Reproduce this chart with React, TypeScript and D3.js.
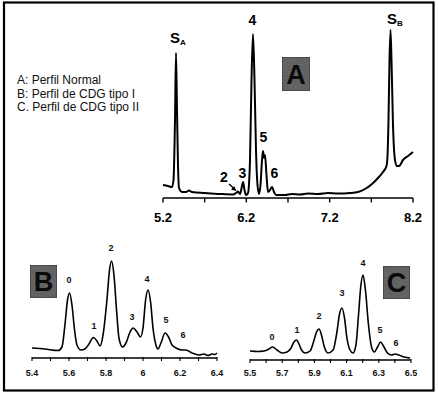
import React from "react";
import * as d3 from "d3";

// ---------- Data ----------
// Profile A (normal): retention (x) vs. relative intensity (y)
const profileAX = [5.2, 5.26, 5.308, 5.326, 5.344, 5.356, 5.368, 5.38, 5.392, 5.428, 5.476, 5.512, 5.548, 5.704, 5.884, 6.04, 6.076, 6.1, 6.124, 6.148, 6.16, 6.178, 6.196, 6.22, 6.244, 6.262, 6.28, 6.298, 6.316, 6.334, 6.352, 6.37, 6.388, 6.4, 6.412, 6.424, 6.442, 6.46, 6.484, 6.508, 6.532, 6.556, 6.664, 6.748, 6.844, 6.94, 7.06, 7.18, 7.3, 7.444, 7.54, 7.624, 7.708, 7.78, 7.84, 7.882, 7.894, 7.906, 7.918, 7.93, 7.942, 7.96, 7.984, 8.008, 8.032, 8.08, 8.14, 8.2];
const profileAY = [13, 12, 11, 18, 78, 145, 88, 33, 10, 6, 6, 7.5, 6, 5, 4, 3.5, 5, 6.5, 4, 12, 16, 8, 3, 5, 38, 118, 164, 118, 48, 13, 4, 13, 38, 47, 40, 43, 23, 6, 8, 11, 6, 3, 3, 4, 3.5, 4.5, 4, 5, 4.5, 5, 6, 9, 14, 20, 26, 32, 42, 78, 138, 168, 138, 73, 38, 32, 32, 38, 42, 46];

// Profile B (CDG type I)
const profileBX = [5.4, 5.47, 5.541, 5.562, 5.578, 5.592, 5.603, 5.616, 5.63, 5.643, 5.665, 5.686, 5.708, 5.732, 5.751, 5.768, 5.784, 5.805, 5.819, 5.83, 5.843, 5.857, 5.87, 5.889, 5.908, 5.93, 5.946, 5.968, 5.986, 6.0, 6.014, 6.027, 6.041, 6.054, 6.07, 6.081, 6.097, 6.119, 6.138, 6.157, 6.184, 6.211, 6.232, 6.265, 6.303, 6.33, 6.351, 6.373, 6.389, 6.4];
const profileBY = [10, 9, 7.5, 11, 33, 58, 65, 53, 28, 13, 8, 9, 14, 20.5, 17, 12, 23, 58, 88, 97, 83, 48, 20, 11, 15, 26, 30, 26, 21, 30, 58, 68, 56, 30, 13, 9, 15, 25, 21, 13, 9.5, 8, 8, 5, 3, 4, 2.5, 4, 3.5, 5];

// Profile C (CDG type II)
const profileCX = [5.5, 5.55, 5.587, 5.618, 5.64, 5.668, 5.699, 5.73, 5.755, 5.773, 5.789, 5.804, 5.82, 5.842, 5.873, 5.898, 5.913, 5.929, 5.944, 5.96, 5.984, 6.016, 6.04, 6.056, 6.071, 6.087, 6.102, 6.121, 6.14, 6.158, 6.174, 6.189, 6.202, 6.217, 6.236, 6.255, 6.273, 6.292, 6.311, 6.329, 6.354, 6.379, 6.401, 6.425, 6.457, 6.494];
const profileCY = [9, 8.5, 9, 11, 13, 10, 7, 8, 12, 18, 20, 16, 10, 7, 9, 20, 28, 31, 25, 14, 7, 10, 28, 46, 52, 42, 22, 10, 7, 15, 45, 75, 85, 70, 35, 13, 8, 13, 18, 14, 7, 5, 6, 5, 3, 2];

// Axis ticks
const ticksAMajor = [5.2, 6.2, 7.2, 8.2];
const ticksAAll = [5.2, 5.7, 6.2, 6.7, 7.2, 7.7, 8.2];
const ticksBLabels = [5.4, 5.6, 5.8, 6, 6.2, 6.4];
const ticksBAll = [5.4, 5.5, 5.6, 5.7, 5.8, 5.9, 6.0, 6.1, 6.2, 6.3, 6.4];
const ticksCLabels = [5.5, 5.7, 5.9, 6.1, 6.3, 6.5];
const ticksCAll = [5.5, 5.6, 5.7, 5.8, 5.9, 6.0, 6.1, 6.2, 6.3, 6.4, 6.5];

// Peak labels (anchor in data units)
const peakLabelsAText = ["4", "5", "6", "3", "2"];
const peakLabelsAX = [6.274, 6.406, 6.538, 6.154, 5.932];
const peakLabelsAY = [173, 56, 20, 20, 16];
const peakLabelsBText = ["0", "1", "2", "3", "4", "5", "6"];
const peakLabelsBX = [5.6, 5.735, 5.827, 5.941, 6.022, 6.124, 6.216];
const peakLabelsBY = [78, 32, 110, 41, 79, 38, 23];
const peakLabelsCText = ["0", "1", "2", "3", "4", "5", "6"];
const peakLabelsCX = [5.637, 5.792, 5.929, 6.071, 6.202, 6.307, 6.407];
const peakLabelsCY = [23, 30, 44, 67, 97, 30, 17];

const legendLines = ["A: Perfil Normal", "B: Perfil de CDG tipo I", "C. Perfil de CDG tipo II"];

const FONT = "'Liberation Sans', Arial, sans-serif";

const fmtB = (v: number) => (Math.abs(v - 6) < 1e-9 ? "6" : String(v));

function LetterBox({ x, y, w, h, letter }: { x: number; y: number; w: number; h: number; letter: string }) {
  return (
    <g>
      <rect x={x} y={y} width={w} height={h} fill="#727272" stroke="#3c3c3c" strokeWidth={1} filter="url(#speckle)" />
      <text x={x + w / 2} y={y + h / 2 + 9.5} textAnchor="middle" fontFamily={FONT} fontWeight="bold" fontSize={27} fill="#0a0a0a">
        {letter}
      </text>
    </g>
  );
}

export default function App() {
  // scales
  const xA = d3.scaleLinear().domain([5.2, 8.2]).range([163, 413]);
  const yA = d3.scaleLinear().domain([0, 170]).range([198, 28]);
  const xB = d3.scaleLinear().domain([5.4, 6.4]).range([32, 217]);
  const yB = d3.scaleLinear().domain([0, 100]).range([358, 258]);
  const xC = d3.scaleLinear().domain([5.5, 6.5]).range([250, 411]);
  const yC = d3.scaleLinear().domain([0, 100]).range([360, 260]);

  const mk = (xs: number[], ys: number[], sx: any, sy: any) =>
    d3
      .line<number>()
      .x((_, i) => sx(xs[i]))
      .y((d) => sy(d))
      .curve(d3.curveMonotoneX)(ys) as string;

  const pathA = mk(profileAX, profileAY, xA, yA);
  const pathB = mk(profileBX, profileBY, xB, yB);
  const pathC = mk(profileCX, profileCY, xC, yC);

  const axisA = yA(0);
  const axisB = yB(0);
  const axisC = yC(0);

  return (
    <div style={{ position: "absolute", left: 0, top: 0 }}>
      <svg width={438} height={395} style={{ display: "block", background: "#fff" }}>
        <defs>
          <filter id="speckle" x="0" y="0" width="100%" height="100%">
            <feTurbulence type="fractalNoise" baseFrequency="0.9" numOctaves={2} seed={3} result="noise" />
            <feColorMatrix in="noise" type="matrix" values="0 0 0 0 0.42  0 0 0 0 0.42  0 0 0 0 0.42  0 0 0 0.9 0" result="gray" />
            <feComposite in="gray" in2="SourceGraphic" operator="in" result="clip" />
            <feBlend in="SourceGraphic" in2="clip" mode="multiply" />
          </filter>
        </defs>
        <rect x={0} y={0} width={438} height={395} fill="#fff" />
        {/* frame */}
        <rect x={4} y={2.5} width={429.5} height={388} fill="none" stroke="#000" strokeWidth={2.2} />

        {/* legend */}
        {legendLines.map((t, i) => (
          <text key={t} x={17} y={84 + i * 13.5} fontFamily={FONT} fontSize={12} fill="#111">
            {t}
          </text>
        ))}

        {/* ---------- Panel A ---------- */}
        <line x1={xA(5.2)} x2={xA(8.2)} y1={axisA} y2={axisA} stroke="#000" strokeWidth={1.6} />
        {ticksAAll.map((t) => (
          <line key={t} x1={xA(t)} x2={xA(t)} y1={axisA} y2={axisA + 4.5} stroke="#000" strokeWidth={1.4} />
        ))}
        {ticksAMajor.map((t) => (
          <text key={t} x={xA(t)} y={221.5} textAnchor="middle" fontFamily={FONT} fontWeight="bold" fontSize={13} fill="#000">
            {t.toFixed(1)}
          </text>
        ))}
        <path d={pathA} fill="none" stroke="#000" strokeWidth={2} strokeLinejoin="round" />
        {peakLabelsAText.map((t, i) => (
          <text key={t} x={xA(peakLabelsAX[i])} y={yA(peakLabelsAY[i])} textAnchor="middle" fontFamily={FONT} fontWeight="bold" fontSize={14} fill="#000">
            {t}
          </text>
        ))}
        {/* arrow from label 2 toward peak 2 */}
        <line x1={xA(5.932) + 5} y1={yA(16) + 2} x2={xA(6.1) - 4} y2={yA(6.5) - 3} stroke="#000" strokeWidth={1.3} />
        <path
          d={`M${xA(6.1) - 1.5},${yA(6.5) - 0.5} l-5.5,-1.2 l3.2,-3.8 z`}
          fill="#000"
        />
        <text x={xA(5.284)} y={yA(155)} fontFamily={FONT} fontWeight="bold" fontSize={15} fill="#000">
          S
          <tspan fontSize={8} dy={2}>A</tspan>
        </text>
        <text x={xA(7.888)} y={yA(174)} fontFamily={FONT} fontWeight="bold" fontSize={15} fill="#000">
          S
          <tspan fontSize={8} dy={2}>B</tspan>
        </text>
        <LetterBox x={282} y={57} w={28} h={34} letter="A" />

        {/* ---------- Panel B ---------- */}
        <line x1={xB(5.4)} x2={xB(6.4)} y1={axisB} y2={axisB} stroke="#000" strokeWidth={1.3} />
        {ticksBAll.map((t) => (
          <line key={t} x1={xB(t)} x2={xB(t)} y1={axisB - 1} y2={axisB + 3} stroke="#000" strokeWidth={1.1} />
        ))}
        {ticksBLabels.map((t) => (
          <text key={t} x={xB(t)} y={376} textAnchor="middle" fontFamily={FONT} fontWeight="bold" fontSize={9} fill="#111">
            {fmtB(t)}
          </text>
        ))}
        <path d={pathB} fill="none" stroke="#000" strokeWidth={1.6} strokeLinejoin="round" />
        {peakLabelsBText.map((t, i) => (
          <text key={t} x={xB(peakLabelsBX[i])} y={yB(peakLabelsBY[i]) + 3.3} textAnchor="middle" fontFamily={FONT} fontWeight="bold" fontSize={9} fill="#111">
            {t}
          </text>
        ))}
        <LetterBox x={30} y={265} w={27} h={33} letter="B" />

        {/* ---------- Panel C ---------- */}
        <line x1={xC(5.5)} x2={xC(6.5)} y1={axisC} y2={axisC} stroke="#000" strokeWidth={1.3} />
        {ticksCAll.map((t) => (
          <line key={t} x1={xC(t)} x2={xC(t)} y1={axisC - 1} y2={axisC + 3} stroke="#000" strokeWidth={1.1} />
        ))}
        {ticksCLabels.map((t) => (
          <text key={t} x={xC(t)} y={376} textAnchor="middle" fontFamily={FONT} fontWeight="bold" fontSize={9} fill="#111">
            {t.toFixed(1)}
          </text>
        ))}
        <path d={pathC} fill="none" stroke="#000" strokeWidth={1.6} strokeLinejoin="round" />
        {peakLabelsCText.map((t, i) => (
          <text key={t} x={xC(peakLabelsCX[i])} y={yC(peakLabelsCY[i]) + 3.3} textAnchor="middle" fontFamily={FONT} fontWeight="bold" fontSize={9} fill="#111">
            {t}
          </text>
        ))}
        <LetterBox x={383} y={266} w={27} h={33} letter="C" />
      </svg>
    </div>
  );
}
